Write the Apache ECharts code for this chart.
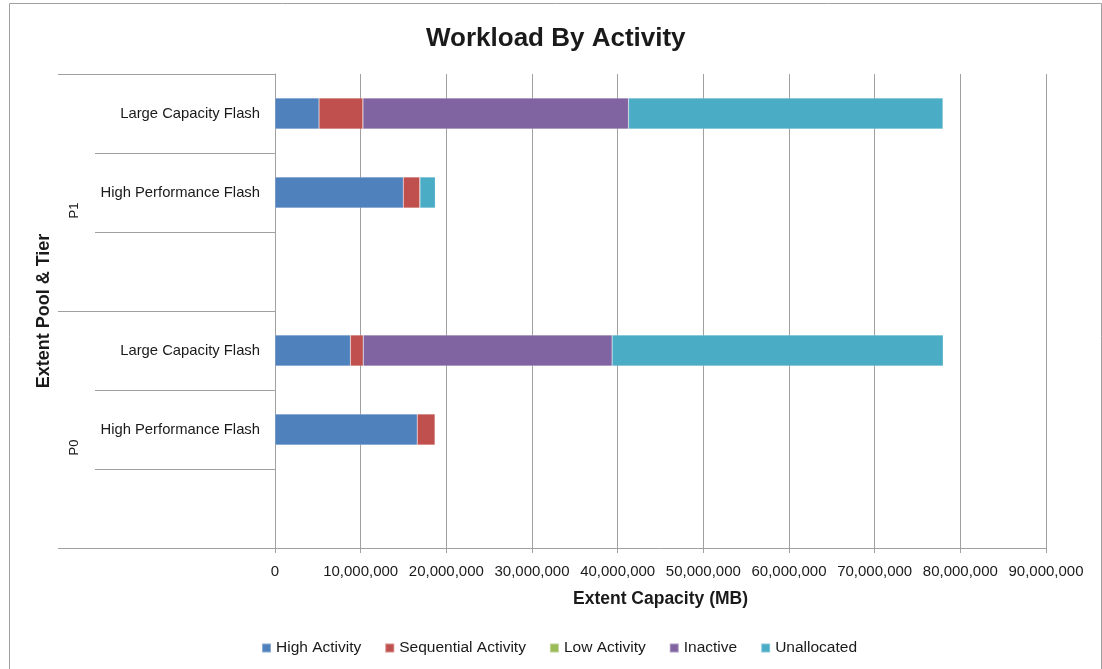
<!DOCTYPE html>
<html>
<head>
<meta charset="utf-8">
<script src="https://cdn.jsdelivr.net/npm/echarts@6/dist/echarts.min.js"></script>
<style>
  html, body { margin: 0; padding: 0; background: #fff; }
  #chart { width: 1102px; height: 669px; }
</style>
</head>
<body>
<div id="chart"></div>
<script>
// Tiers, listed bottom to top (one empty slot closes each pool)
const tiers = ['', 'High Performance Flash', 'Large Capacity Flash', '', 'High Performance Flash', 'Large Capacity Flash'];
// Extent pools, bottom to top
const pools = ['P0', 'P1'];

// Capacity per activity class, in MB, same order as tiers
const highActivity       = [null, 16600000, 8800000, null, 14970000, 5140000];
const sequentialActivity = [null, 2100000, 1500000, null, 1950000, 5130000];
const lowActivity        = [null, 0, 0, null, 0, 0];
const inactive           = [null, 0, 29050000, null, 0, 31000000];
const unallocated        = [null, 0, 38650000, null, 1790000, 36700000];

const seriesNames = ['High Activity', 'Sequential Activity', 'Low Activity', 'Inactive', 'Unallocated'];
const seriesValues = [highActivity, sequentialActivity, lowActivity, inactive, unallocated];
const palette = ['#4F81BD', '#C0504D', '#9BBB59', '#8064A2', '#4BACC6'];

const FONT = 'Liberation Sans';
const TEXT = '#1a1a1a';
const LINE = '#a0a0a0';

const chart = echarts.init(document.getElementById('chart'), null, { renderer: 'canvas' });

chart.setOption({
  animation: false,
  backgroundColor: '#fff',
  color: palette,
  textStyle: { fontFamily: FONT, color: TEXT },
  title: {
    text: 'Workload By Activity',
    left: 421,
    top: 21,
    textStyle: { fontFamily: FONT, fontSize: 26, fontWeight: 'bold', color: TEXT }
  },
  legend: {
    top: 635,
    left: 256,
    icon: 'rect',
    itemWidth: 9,
    itemHeight: 9,
    itemGap: 23,
    textStyle: { fontFamily: FONT, fontSize: 15.5, color: TEXT },
    data: seriesNames
  },
  grid: { left: 275, right: 56, top: 74, bottom: 121, containLabel: false },
  xAxis: {
    type: 'value',
    min: 0,
    max: 90000000,
    interval: 10000000,
    name: 'Extent Capacity (MB)',
    nameLocation: 'middle',
    nameGap: 42,
    nameTextStyle: { fontFamily: FONT, fontSize: 17.5, fontWeight: 'bold', color: TEXT },
    axisLine: { show: true, lineStyle: { color: LINE, width: 1 } },
    axisTick: { show: true, length: 5, lineStyle: { color: LINE } },
    axisLabel: {
      margin: 16,
      fontFamily: FONT,
      fontSize: 15,
      color: TEXT,
      formatter: v => v.toLocaleString('en-US')
    },
    splitLine: { show: true, lineStyle: { color: LINE, width: 1 } }
  },
  yAxis: [
    {
      type: 'category',
      data: tiers,
      name: 'Extent Pool & Tier',
      nameLocation: 'middle',
      nameGap: 222,
      nameTextStyle: { fontFamily: FONT, fontSize: 18, fontWeight: 'bold', color: TEXT },
      axisLine: { show: true, lineStyle: { color: LINE, width: 1 } },
      axisTick: { show: true, length: 180, lineStyle: { color: LINE, width: 1 } },
      axisLabel: { margin: 15, fontFamily: FONT, fontSize: 14.8, color: TEXT, interval: 0 },
      splitLine: { show: false }
    },
    {
      type: 'category',
      data: pools,
      position: 'left',
      axisLine: { show: false },
      axisTick: { show: true, length: 217, lineStyle: { color: LINE, width: 1 } },
      axisLabel: { margin: 194, rotate: 90, fontFamily: FONT, fontSize: 13, color: TEXT, padding: [0, 36, 0, 0] },
      splitLine: { show: false }
    }
  ],
  graphic: [
    {
      type: 'rect',
      silent: true,
      z: -1,
      shape: { x: 9.5, y: 3.5, width: 1092, height: 700 },
      style: { fill: 'none', stroke: '#a0a0a0', lineWidth: 1 }
    }
  ],
  series: seriesNames.map((name, i) => ({
    name,
    type: 'bar',
    stack: 'capacity',
    yAxisIndex: 0,
    barWidth: 31,
    data: seriesValues[i],
    itemStyle: { color: palette[i], borderColor: 'rgba(255,255,255,0.35)', borderWidth: 0.5 }
  }))
});
</script>
</body>
</html>
